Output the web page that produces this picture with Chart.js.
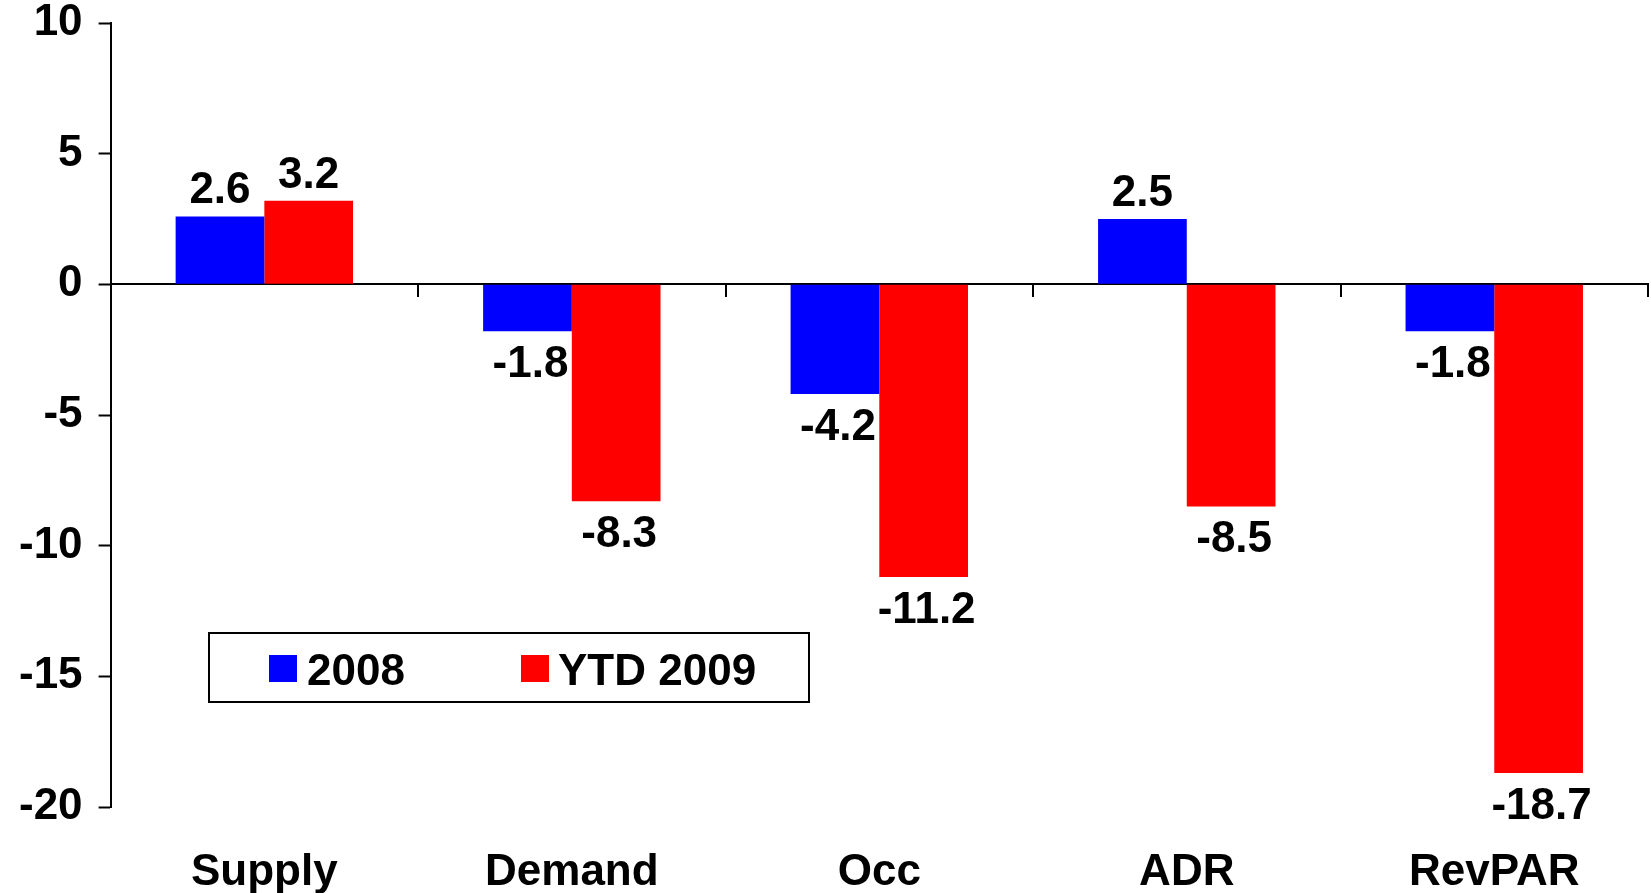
<!DOCTYPE html>
<html><head><meta charset="utf-8">
<script src="https://cdn.jsdelivr.net/npm/chart.js@4/dist/chart.umd.min.js"></script>
<style>html,body{margin:0;padding:0;background:#fff;overflow:hidden}#wrap{width:1651px;height:893px;position:relative}</style>
</head><body><div id="wrap"><canvas id="c"></canvas></div>
<script>
const categories = ['Supply', 'Demand', 'Occ', 'ADR', 'RevPAR'];
const series2008 = [2.6, -1.8, -4.2, 2.5, -1.8];
const seriesYTD2009 = [3.2, -8.3, -11.2, -8.5, -18.7];
const seriesNames = ['2008', 'YTD 2009'];
const seriesColors = ['#0000FF', '#FF0000'];
const yMin = -20, yMax = 10, yStep = 5;

const FONT = '"Liberation Sans", Arial, sans-serif';
Chart.defaults.font.family = FONT;
Chart.defaults.color = '#000';

const valueLabels = {
  id: 'valueLabels',
  afterDatasetsDraw(chart) {
    const ctx = chart.ctx;
    ctx.save();
    ctx.font = 'bold 44px ' + FONT;
    ctx.fillStyle = '#000';
    ctx.textAlign = 'center';
    ctx.textBaseline = 'alphabetic';
    chart.data.datasets.forEach((ds, i) => {
      chart.getDatasetMeta(i).data.forEach((el, j) => {
        const v = ds.data[j];
        const txt = v.toFixed(1);
        if (v >= 0) ctx.fillText(txt, el.x, el.y - 13);
        else ctx.fillText(txt, el.x + 3, el.y + 14 + 31.5);
      });
    });
    ctx.restore();
  }
};

const boxLegend = {
  id: 'boxLegend',
  afterDraw(chart) {
    const ctx = chart.ctx;
    ctx.save();
    ctx.lineWidth = 2;
    ctx.strokeStyle = '#000';
    ctx.strokeRect(209, 633, 600, 69);
    ctx.font = 'bold 44px ' + FONT;
    ctx.textBaseline = 'alphabetic';
    ctx.textAlign = 'left';
    const items = [{sx: 269, tx: 307}, {sx: 521, tx: 558}];
    chart.data.datasets.forEach((ds, i) => {
      ctx.fillStyle = ds.backgroundColor;
      ctx.fillRect(items[i].sx, 655, 28, 27);
      ctx.fillStyle = '#000';
      ctx.fillText(ds.label, items[i].tx, 685);
    });
    ctx.restore();
  }
};

new Chart(document.getElementById('c'), {
  type: 'bar',
  data: {
    labels: categories,
    datasets: [
      {label: seriesNames[0], data: series2008, backgroundColor: seriesColors[0], borderWidth: 0},
      {label: seriesNames[1], data: seriesYTD2009, backgroundColor: seriesColors[1], borderWidth: 0}
    ]
  },
  options: {
    responsive: true,
    maintainAspectRatio: false,
    animation: false,
    devicePixelRatio: 1,
    datasets: {bar: {barPercentage: 1, categoryPercentage: 0.577}},
    layout: {padding: {left: 3, right: 3, top: 0, bottom: 0}},
    plugins: {legend: {display: false}, tooltip: {enabled: false}},
    scales: {
      x: {
        grid: {display: false, drawTicks: false},
        border: {display: false},
        ticks: {color: '#000', font: {size: 44, weight: 'bold'}, padding: 39},
        afterFit(s) { s.height = 86; }
      },
      x2: {
        type: 'category',
        labels: categories,
        position: {y: 0},
        offset: true,
        grid: {display: true, drawOnChartArea: false, drawTicks: true, tickLength: 12, color: '#000', lineWidth: 2, offset: true},
        border: {display: true, color: '#000', width: 2},
        ticks: {display: false}
      },
      y: {
        min: yMin, max: yMax,
        ticks: {stepSize: yStep, color: '#000', font: {size: 44, weight: 'bold', lineHeight: 1.05}, padding: 16},
        grid: {display: true, drawOnChartArea: false, drawTicks: true, tickLength: 12, tickColor: '#000', tickWidth: 2, color: '#000'},
        border: {display: true, color: '#000', width: 2},
        afterFit(s) { s.paddingTop = 23; s.paddingBottom = 0; }
      }
    }
  },
  plugins: [valueLabels, boxLegend]
});
</script></body></html>
